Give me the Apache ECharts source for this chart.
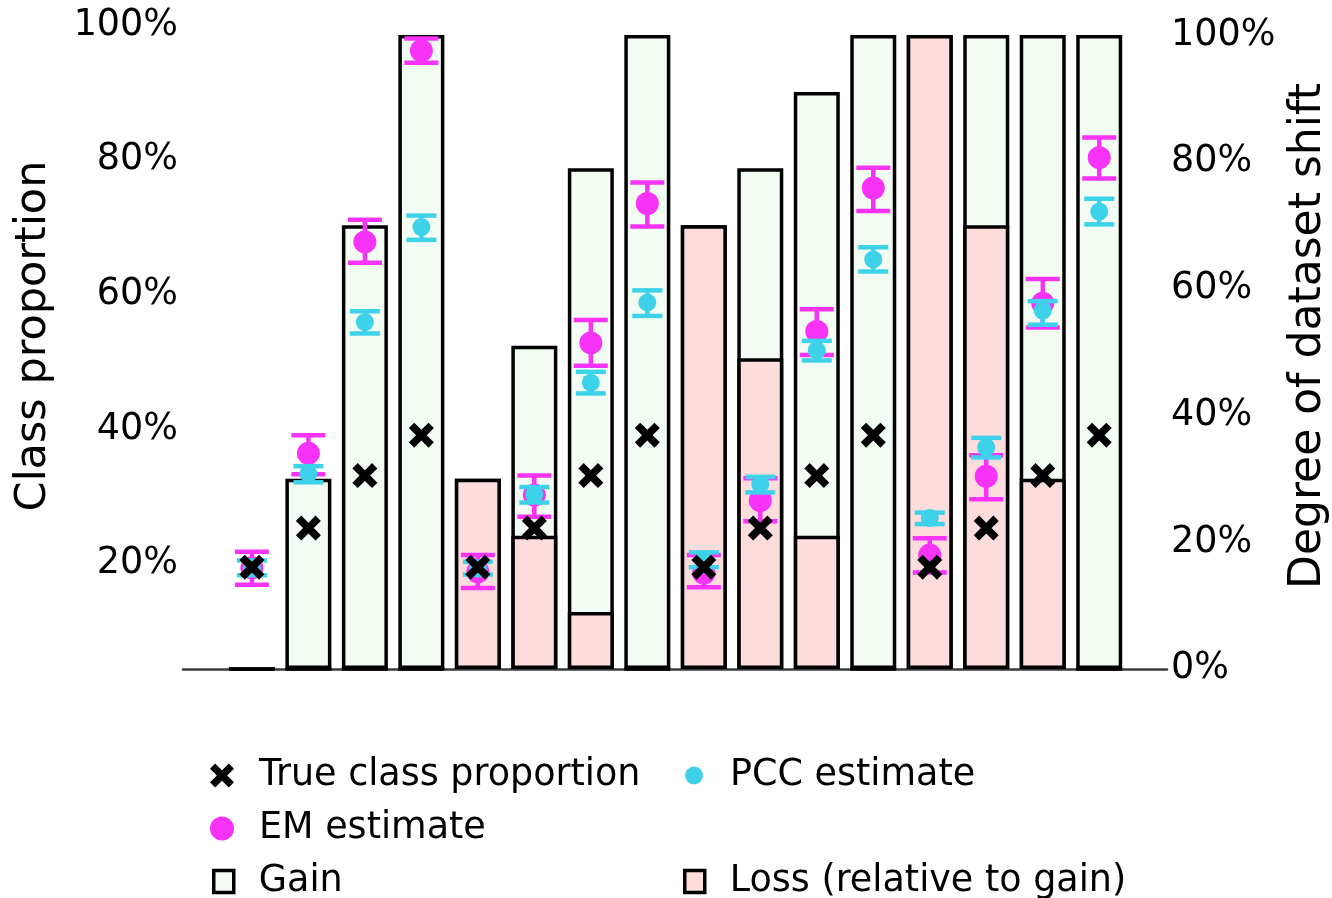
<!DOCTYPE html>
<html>
<head>
<meta charset="utf-8">
<title>Class proportion vs dataset shift</title>
<script src="https://cdn.jsdelivr.net/npm/echarts@6/dist/echarts.min.js"></script>
<style>
  html, body { margin: 0; padding: 0; background: #fff; }
  #chart { width: 1332px; height: 898px; }
</style>
</head>
<body>
<div id="chart"></div>
<script>
// one slot per experiment, left to right
const slots = [0, 1, 2, 3, 4, 5, 6, 7, 8, 9, 10, 11, 12, 13, 14, 15]

// degree of dataset shift (right axis, %)
const gain = [0, 30, 70, 100, 30, 51, 79, 100, 70, 79, 91, 100, 100, 100, 100, 100]
const loss = [0, 0, 0, 0, 30, 21, 9, 0, 70, 49, 21, 0, 100, 70, 30, 0]

// class proportions (left axis, %)
const trueProp = [19.5, 25.3, 33.1, 39.1, 19.5, 25.3, 33.1, 39.1, 19.5, 25.3, 33.1, 39.1, 19.5, 25.3, 33.1, 39.1]

const emMid = [19.4, 36.4, 67.8, 96.2, 18.8, 30.2, 52.8, 73.5, 18.6, 29.4, 54.5, 75.8, 21.3, 33.0, 58.7, 80.3]
const emLow = [16.9, 33.3, 64.7, 94.4, 16.4, 27.0, 49.4, 70.1, 16.5, 26.3, 51.0, 72.4, 18.7, 29.6, 55.1, 77.2]
const emHigh = [21.8, 39.1, 71.1, 98.0, 21.3, 33.1, 56.2, 76.6, 21.3, 32.7, 57.8, 78.8, 23.8, 36.1, 62.3, 83.3]

const pccMid = [19.4, 33.4, 55.9, 70.0, 19.3, 30.3, 46.9, 58.8, 20.6, 31.8, 51.7, 65.2, 26.8, 37.3, 57.6, 72.3]
const pccLow = [18.3, 32.1, 54.2, 68.1, 18.4, 29.1, 45.3, 56.8, 19.5, 30.6, 50.2, 63.4, 25.9, 35.8, 55.5, 70.4]
const pccHigh = [20.5, 34.5, 57.5, 71.7, 20.3, 31.4, 48.5, 60.6, 21.7, 32.9, 53.1, 67.0, 27.6, 38.7, 59.0, 74.2]

const leftTicks = [20, 40, 60, 80, 100]
const rightTicks = [0, 20, 40, 60, 80, 100]

const FONT = "'DejaVu Sans', sans-serif"
const MAGENTA = '#f833f8'
const CYAN = '#3ed2ea'
const GAIN_FILL = '#f2fcf2'
const LOSS_FILL = '#fddcdc'
const X_PATH = 'path://M0,6 L6,0 L14,8 L22,0 L28,6 L20,14 L28,22 L22,28 L14,20 L6,28 L0,22 L8,14 Z'

const chart = echarts.init(document.getElementById('chart'), null, { renderer: 'canvas' })

const pairs = (vals) => slots.map((s, i) => [s, vals[i]])
const ranges = (lo, hi) => slots.map((s, i) => [s, lo[i], hi[i]])

// error bar: stem plus two caps
const errorBar = (color, capW, lw) => (params, api) => {
  const x = api.value(0)
  const lo = api.coord([x, api.value(1)])
  const hi = api.coord([x, api.value(2)])
  const style = { stroke: color, lineWidth: lw }
  return {
    type: 'group',
    children: [
      { type: 'line', shape: { x1: lo[0], y1: lo[1], x2: hi[0], y2: hi[1] }, style },
      { type: 'line', shape: { x1: lo[0] - capW / 2, y1: lo[1], x2: lo[0] + capW / 2, y2: lo[1] }, style },
      { type: 'line', shape: { x1: hi[0] - capW / 2, y1: hi[1], x2: hi[0] + capW / 2, y2: hi[1] }, style }
    ]
  }
}

// one legend per entry so the two-column layout can be placed freely
const legendAt = (iconX, rowY, textX, name, icon, w, h, itemStyle) => ({
  left: iconX - w / 2,
  top: rowY - 16,
  padding: 0,
  itemWidth: w,
  itemHeight: h,
  selectedMode: false,
  textStyle: { fontFamily: FONT, fontSize: 36.5, color: '#000', padding: [0, 0, 0, textX - iconX - w / 2 - 5] },
  data: [{ name, icon, itemStyle }]
})

const option = {
  animation: false,
  backgroundColor: '#fff',
  textStyle: { fontFamily: FONT },
  grid: { left: 183, right: 165, top: 3, bottom: 229, outerBoundsMode: 'none', containLabel: false },
  legend: [
    legendAt(222, 773, 259, 'True class proportion', X_PATH, 24, 24, { color: '#000', borderWidth: 0 }),
    legendAt(694, 773, 730, 'PCC estimate', 'circle', 18, 18, { color: CYAN, borderWidth: 0 }),
    legendAt(222, 826, 259, 'EM estimate', 'circle', 24, 24, { color: MAGENTA, borderWidth: 0 }),
    legendAt(222, 879, 257, 'Gain', 'rect', 20, 22, { color: GAIN_FILL, borderColor: '#000', borderWidth: 3.5 }),
    legendAt(693, 879, 728, 'Loss (relative to gain)', 'rect', 20, 22, { color: LOSS_FILL, borderColor: '#000', borderWidth: 3.5 })
  ],
  xAxis: {
    type: 'value',
    min: -1.22,
    max: 16.2,
    axisLine: { show: true, onZero: false, lineStyle: { color: '#3a3a3a', width: 2.5 } },
    axisTick: { show: false },
    axisLabel: { show: false },
    splitLine: { show: false }
  },
  yAxis: [
    {
      type: 'value',
      position: 'left',
      min: 4.38,
      max: 103.27,
      name: 'Class proportion',
      nameLocation: 'middle',
      nameRotate: 90,
      nameGap: 128,
      nameTextStyle: { fontFamily: FONT, fontSize: 43, color: '#000' },
      axisLine: { show: false },
      axisTick: { show: false },
      splitLine: { show: false },
      axisLabel: {
        customValues: leftTicks,
        formatter: '{value}%',
        fontFamily: FONT,
        fontSize: 36.5,
        color: '#000',
        margin: 5,
        padding: [5, 0, 0, 0]
      }
    },
    {
      type: 'value',
      position: 'right',
      min: 0,
      max: 105.05,
      name: 'Degree of dataset shift',
      nameLocation: 'middle',
      nameRotate: 90,
      nameGap: 120,
      nameTextStyle: { fontFamily: FONT, fontSize: 44, color: '#000' },
      axisLine: { show: false },
      axisTick: { show: false },
      splitLine: { show: false },
      axisLabel: {
        customValues: rightTicks,
        formatter: '{value}%',
        fontFamily: FONT,
        fontSize: 36.5,
        color: '#000',
        margin: 4,
        padding: [5, 0, 0, 0]
      }
    }
  ],
  series: [
    {
      name: 'Gain',
      type: 'bar',
      yAxisIndex: 1,
      barWidth: 46,
      barGap: '-100%',
      z: 1,
      itemStyle: { color: GAIN_FILL, borderColor: '#000', borderWidth: 3.5 },
      data: pairs(gain)
    },
    {
      name: 'Loss (relative to gain)',
      type: 'bar',
      yAxisIndex: 1,
      barWidth: 46,
      barGap: '-100%',
      z: 2,
      itemStyle: { color: LOSS_FILL, borderColor: '#000', borderWidth: 3.5 },
      data: pairs(loss)
    },
    {
      name: 'EM range',
      type: 'custom',
      yAxisIndex: 0,
      z: 3,
      renderItem: errorBar(MAGENTA, 34, 4.5),
      data: ranges(emLow, emHigh)
    },
    {
      name: 'EM estimate',
      type: 'scatter',
      yAxisIndex: 0,
      z: 4,
      symbol: 'circle',
      symbolSize: 23,
      itemStyle: { color: MAGENTA, opacity: 1 },
      data: pairs(emMid)
    },
    {
      name: 'PCC range',
      type: 'custom',
      yAxisIndex: 0,
      z: 5,
      renderItem: errorBar(CYAN, 30, 4.5),
      data: ranges(pccLow, pccHigh)
    },
    {
      name: 'PCC estimate',
      type: 'scatter',
      yAxisIndex: 0,
      z: 6,
      symbol: 'circle',
      symbolSize: 18,
      itemStyle: { color: CYAN, opacity: 1 },
      data: pairs(pccMid)
    },
    {
      name: 'True class proportion',
      type: 'scatter',
      yAxisIndex: 0,
      z: 7,
      symbol: X_PATH,
      symbolSize: 25,
      itemStyle: { color: '#000', opacity: 1 },
      data: pairs(trueProp)
    }
  ]
}

chart.setOption(option)
</script>
</body>
</html>
